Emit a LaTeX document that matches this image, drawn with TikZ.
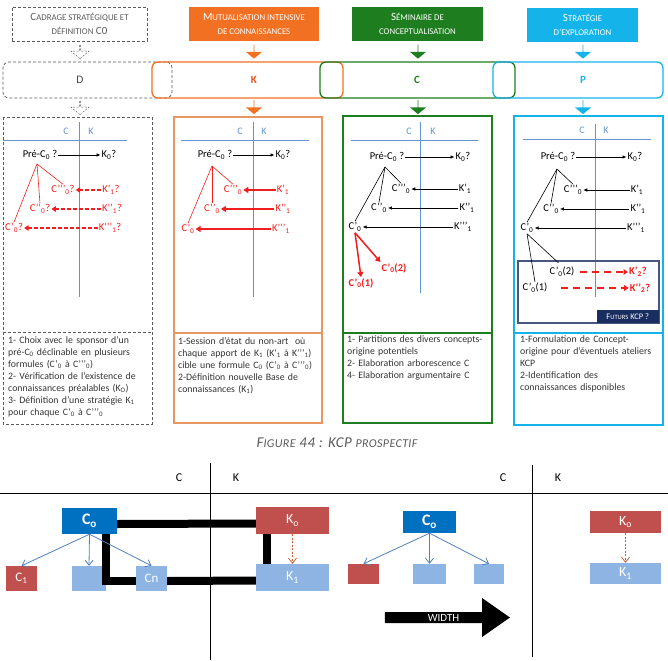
\documentclass[tikz,border=0pt]{standalone}
\usepackage{fontspec}
\setmainfont{Carlito}
\usetikzlibrary{positioning,shapes.arrows,arrows.meta}

\setlength{\parindent}{0pt}

\definecolor{kcporange}{RGB}{241,112,34}
\definecolor{kcpkorange}{RGB}{232,85,35}
\definecolor{kcppanelorange}{RGB}{232,150,100}
\definecolor{kcpgreen}{RGB}{30,125,30}
\definecolor{kcpcyan}{RGB}{20,180,235}
\definecolor{kcpgray}{RGB}{90,90,90}
\definecolor{kcpline}{RGB}{95,150,210}
\definecolor{kcpred}{RGB}{240,30,30}
\definecolor{kcpnavy}{RGB}{25,45,95}
\definecolor{kcpdarkblue}{RGB}{0,112,192}
\definecolor{kcpbrick}{RGB}{192,80,77}
\definecolor{kcplightblue}{RGB}{141,180,226}
\definecolor{kcpsteel}{RGB}{79,129,189}
\definecolor{kcprust}{RGB}{205,95,55}

% fake small caps: big first letter, small rest
\newcommand{\fsc}[2]{#1{\fontsize{8.8}{10}\selectfont #2}}
\newcommand{\lo}[1]{\textsubscript{#1}}

\begin{document}
\begin{tikzpicture}[x=1pt, y=-1pt,
    hdr/.style={rectangle, minimum height=34pt, inner sep=0pt, align=center, font=\fontsize{11}{14}\selectfont},
    midbox/.style={rectangle, rounded corners=6pt, line width=1.3pt, minimum height=36pt, inner sep=0pt},
    midlab/.style={font=\bfseries\fontsize{11}{12}\selectfont},
    fatdown/.style={single arrow, rotate=-90, minimum height=14pt, minimum width=16pt,
        single arrow head extend=4pt, single arrow tip angle=100, inner sep=0pt},
    dashbox/.style={kcpgray, line width=0.7pt, dash pattern=on 3pt off 2pt},
    panel/.style={line width=1.3pt},
    ckline/.style={kcpline, line width=0.6pt},
    cklab/.style={kcpline, font=\fontsize{10}{11}\selectfont},
    lab/.style={inner sep=1pt, font=\fontsize{10.5}{12}\selectfont},
    thinarrow/.style={-{Latex[length=4pt,width=3.5pt]}, line width=0.6pt},
    redsolid/.style={kcpred, line width=1.8pt, -{Triangle[length=5pt,width=6pt]}},
    reddash/.style={kcpred, line width=1.6pt, dash pattern=on 4pt off 2pt, -{Triangle[length=4.5pt,width=5.5pt]}},
    note/.style={anchor=north west, inner sep=0pt, font=\fontsize{9.8}{12}\selectfont, text=black!80},
    blk/.style={rectangle, inner sep=0pt, text=white},
    bigline/.style={line width=8pt},
    ]
\useasboundingbox (0,0) rectangle (668,660);

% header boxes
\node[hdr, draw=kcpgray, dash pattern=on 3pt off 2pt, text=kcpgray, minimum width=135pt] (cadrage) at (79.5,24)
    {\fsc{C}{ADRAGE STRATÉGIQUE ET}\\{\fontsize{8.8}{10}\selectfont DÉFINITION} C0};
\node[hdr, fill=kcporange, text=white, minimum width=130pt] (mutual) at (254,24)
    {\fsc{M}{UTUALISATION INTENSIVE}\\{\fontsize{8.8}{10}\selectfont DE CONNAISSANCES}};
\node[hdr, fill=kcpgreen, text=white, minimum width=131pt] (seminaire) at (417.5,24)
    {\fsc{S}{ÉMINAIRE DE}\\{\fontsize{8.8}{10}\selectfont CONCEPTUALISATION}};
\node[hdr, fill=kcpcyan, text=white, minimum width=111pt] (strategie) at (582.5,25)
    {\fsc{S}{TRATÉGIE}\\{\fontsize{8.8}{10}\selectfont D’EXPLORATION}};

% arrows under the headers
\node[fatdown, draw=kcpgray, dash pattern=on 2pt off 1.5pt, fill=white, minimum width=18pt, single arrow head extend=5pt] (arrd1) at (80,51.5) {};
\node[fatdown, fill=kcporange] (arrk1) at (254,51.5) {};
\node[fatdown, fill=kcpgreen] (arrc1) at (418,51.5) {};
\node[fatdown, fill=kcpcyan] (arrp1) at (583,51.5) {};

% D K C P band
\node[midbox, draw=kcpgray, line width=0.7pt, dash pattern=on 3pt off 2pt, minimum width=169pt] (dband) at (87.5,80) {};
\node[midbox, draw=kcporange, minimum width=191pt] (kband) at (247.5,80) {};
\node[midbox, draw=kcpgreen, minimum width=195pt] (cband) at (417.5,80) {};
\node[midbox, draw=kcpcyan, minimum width=170pt] (pband) at (578,80) {};
\node[font=\fontsize{11.5}{12}\selectfont, text=kcpgray!80!black] (dlab) at (80,80) {D};
\node[midlab, text=kcpkorange] (klab) at (254,80) {K};
\node[midlab, text=kcpgreen] (clab) at (417,80) {C};
\node[midlab, text=kcpcyan] (plab) at (583,80) {P};

% arrows under the band
\node[fatdown, draw=kcpgray, dash pattern=on 2pt off 1.5pt, fill=white, minimum width=18pt, single arrow head extend=5pt] (arrd2) at (80,107.5) {};
\node[fatdown, fill=kcporange] (arrk2) at (254,107) {};
\node[fatdown, fill=kcpgreen] (arrc2) at (418,107) {};
\node[fatdown, fill=kcpcyan] (arrp2) at (583,107) {};

% panel frames
\draw[dashbox] (3,117) rectangle (152,424);
\draw[dashbox] (3,332) -- (152,332);
\draw[panel, kcppanelorange] (174,117) rectangle (322,423);
\draw[panel, kcppanelorange] (174,333) -- (322,333);
\draw[panel, kcpgreen] (343,116) rectangle (492,423);
\draw[panel, kcpgreen] (343,333) -- (492,333);
\draw[panel, kcpcyan] (514,116) rectangle (663,425);
\draw[panel, kcpcyan] (514,333) -- (663,333);

% C | K axes
\draw[ckline] (3,140) -- (127,140);
\draw[ckline] (79,122) -- (79,297);
\node[cklab] at (66,131) {C};
\node[cklab] at (91,131) {K};
\draw[ckline] (181,140) -- (309,140);
\draw[ckline] (253,122) -- (253,297);
\node[cklab] at (240,131) {C};
\node[cklab] at (264,131) {K};
\draw[ckline] (351,140) -- (478,140);
\draw[ckline] (420,122) -- (420,293);
\node[cklab] at (409,131) {C};
\node[cklab] at (433,131) {K};
\draw[ckline] (523,139) -- (651,139);
\draw[ckline] (595,124) -- (595,297);
\node[cklab] at (582,130) {C};
\node[cklab] at (606,130) {K};

% panel D
\node[lab] (dpre) at (40,155) {Pré-C\lo{0} ?};
\node[lab] (dk0) at (109,155) {K\lo{0}?};
\draw[thinarrow] (dpre) -- (dk0);
\coordinate (dtop) at (37,164);
\node[lab, text=kcpred] (dc3) at (63,190) {C’’’\lo{0}?};
\node[lab, text=kcpred] (dc2) at (40,209) {C’’\lo{0}?};
\node[lab, text=kcpred] (dc1) at (14,228) {C’\lo{0}?};
\node[lab, text=kcpred] (dk1) at (111,190) {K’\lo{1}?};
\node[lab, text=kcpred] (dk2) at (112,209) {K’’\lo{1}?};
\node[lab, text=kcpred] (dk3) at (110,228) {K’’’\lo{1}?};
\draw[kcpred, line width=0.6pt] (dtop) -- (dc3.north);
\draw[kcpred, line width=0.6pt] (dtop) -- (dc2.north);
\draw[kcpred, line width=0.6pt] (dtop) -- (dc1.north);
\draw[reddash] (dk1) -- (dc3);
\draw[reddash] (dk2) -- (dc2);
\draw[reddash] (dk3) -- (dc1);

% panel K
\node[lab] (kpre) at (215,155) {Pré-C\lo{0} ?};
\node[lab] (kk0) at (283,155) {K\lo{0}?};
\draw[thinarrow] (kpre) -- (kk0);
\coordinate (ktop) at (212,166);
\node[lab, text=kcpred] (kc3) at (233,190) {C’’’\lo{0}};
\node[lab, text=kcpred] (kc2) at (212,209) {C’’\lo{0}};
\node[lab, text=kcpred] (kc1) at (188,229) {C’\lo{0}};
\node[lab, text=kcpred] (kk1) at (283,190) {K’\lo{1}};
\node[lab, text=kcpred] (kk2) at (283,209) {K’’\lo{1}};
\node[lab, text=kcpred] (kk3) at (281,229) {K’’’\lo{1}};
\draw[kcpred, line width=0.6pt] (ktop) -- (kc3.north);
\draw[kcpred, line width=0.6pt] (ktop) -- (kc2.north);
\draw[kcpred, line width=0.6pt] (ktop) -- (kc1.north);
\draw[redsolid] (kk1) -- (kc3);
\draw[redsolid] (kk2) -- (kc2);
\draw[redsolid] (kk3) -- (kc1);

% panel C
\node[lab] (cpre) at (387,157) {Pré-C\lo{0} ?};
\node[lab] (ck0) at (463,157) {K\lo{0}?};
\draw[thinarrow] (cpre) -- (ck0);
\coordinate (ctop) at (385,167);
\node[lab] (cc3) at (401,189) {C’’’\lo{0}};
\node[lab] (cc2) at (379,208) {C’’\lo{0}};
\node[lab] (cc1) at (355,227) {C’\lo{0}};
\node[lab] (ck1) at (465,189) {K’\lo{1}};
\node[lab] (ck2) at (467,208) {K’’\lo{1}};
\node[lab] (ck3) at (463,227) {K’’’\lo{1}};
\draw[line width=0.6pt] (ctop) -- (cc3.north);
\draw[line width=0.6pt] (ctop) -- (cc2.north);
\draw[line width=0.6pt] (ctop) -- (cc1.north);
\draw[thinarrow] (ck1) -- (cc3);
\draw[thinarrow] (ck2) -- (cc2);
\draw[thinarrow] (ck3) -- (cc1);
\node[lab, text=kcpred, font=\bfseries\fontsize{10.5}{12}\selectfont] (cc12) at (394,268) {C’\lo{0}(2)};
\node[lab, text=kcpred, font=\bfseries\fontsize{10.5}{12}\selectfont] (cc11) at (361,283) {C’\lo{0}(1)};
\draw[redsolid, line width=1.5pt] (cc1.south) -- (cc11.north);
\draw[redsolid, line width=1.5pt] (cc1.south) -- (cc12.north west);

% panel P
\node[lab] (ppre) at (558,157) {Pré-C\lo{0} ?};
\node[lab] (pk0) at (635,157) {K\lo{0}?};
\draw[thinarrow] (ppre) -- (pk0);
\coordinate (ptop) at (557,169);
\node[lab] (pc3) at (573,190) {C’’’\lo{0}};
\node[lab] (pc2) at (551,209) {C’’\lo{0}};
\node[lab] (pc1) at (527,228) {C’\lo{0}};
\node[lab] (pk1) at (637,190) {K’\lo{1}};
\node[lab] (pk2) at (638,209) {K’’\lo{1}};
\node[lab] (pk3) at (636,228) {K’’’\lo{1}};
\draw[line width=0.6pt] (ptop) -- (pc3.north);
\draw[line width=0.6pt] (ptop) -- (pc2.north);
\draw[line width=0.6pt] (ptop) -- (pc1.north);
\draw[thinarrow] (pk1) -- (pc3);
\draw[thinarrow] (pk2) -- (pc2);
\draw[thinarrow] (pk3) -- (pc1);
\draw[kcpnavy!80, line width=1.2pt] (518,261) rectangle (659,323);
\node[fill=kcpnavy, text=white, anchor=south east, minimum width=62pt, minimum height=13pt, inner sep=0pt,
    font=\fontsize{8.5}{9}\selectfont] (futurs) at (659,323) {F{\fontsize{6.5}{7}\selectfont UTURS} KCP ?};
\node[lab] (pc12) at (562,272) {C’\lo{0}(2)};
\node[lab] (pc11) at (535,288) {C’\lo{0}(1)};
\node[lab, text=kcpred, font=\bfseries\fontsize{10.5}{12}\selectfont] (pk12) at (638,272) {K’\lo{2}?};
\node[lab, text=kcpred, font=\bfseries\fontsize{10.5}{12}\selectfont] (pk11) at (640,288) {K’’\lo{2}?};
\draw[line width=0.6pt, shorten >=5pt] (pc1.south) -- (pc12.north);
\draw[line width=0.6pt] (pc1.south) -- (pc11.north);
\draw[reddash, line width=2pt, dash pattern=on 7pt off 5pt, shorten <=4pt] (pc12) -- (pk12);
\draw[reddash, line width=2pt, dash pattern=on 7pt off 5pt, shorten <=12pt] (pc11) -- (pk11);

% panel notes
\node[note, text width=138pt] (dnote) at (8,336)
    {1- Choix avec le sponsor d’un\linebreak pré-C\lo{0} déclinable en plusieurs\linebreak formules (C’\lo{0} à C’’’\lo{0})\par
     2- Vérification de l’existence de\linebreak connaissances préalables (K\lo{O})\par
     3- Définition d’une stratégie K\lo{1}\linebreak pour chaque C’\lo{0} à C’’’\lo{0}};
\node[note, text width=139pt] (knote) at (178,337)
    {1-Session d’état du non-art~ où\linebreak chaque apport de K\lo{1} (K’\lo{1} à K’’’\lo{1})\linebreak cible une formule C\lo{0} (C’\lo{0} à C’’’\lo{0})\par
     2-Définition nouvelle Base de\linebreak connaissances (K\lo{1})};
\node[note, text width=145pt, align=left] (cnote) at (347,335.5)
    {1- Partitions des divers concepts-\\origine potentiels\\2- Elaboration arborescence C\\4- Elaboration argumentaire C};
\node[note, text width=142pt, align=left] (pnote) at (520,335.5)
    {1-Formulation de Concept-\\origine pour d’éventuels ateliers\\KCP\\2-Identification des\\connaissances disponibles};

% caption
\node[font=\itshape\fontsize{15}{17}\selectfont\addfontfeature{LetterSpace=3}, text=kcpgray] (caption) at (337,443)
    {F{\fontsize{12}{14}\selectfont IGURE} 44 : KCP {\fontsize{12}{14}\selectfont PROSPECTIF}};

% lower C | K axes
\draw[line width=0.8pt] (0,493) -- (668,493);
\draw[line width=0.8pt] (210,463) -- (210,660);
\draw[line width=0.8pt] (532,465) -- (532,657);
\node[font=\fontsize{12}{13}\selectfont] (lc) at (179,478) {C};
\node[font=\fontsize{12}{13}\selectfont] (lk) at (236,478) {K};
\node[font=\fontsize{12}{13}\selectfont] (rc) at (503,478) {C};
\node[font=\fontsize{12}{13}\selectfont] (rk) at (558,478) {K};

% left tree
\node[blk, fill=kcpdarkblue, minimum width=55pt, minimum height=26pt, font=\bfseries\fontsize{16}{17}\selectfont] (lco) at (89.5,521) {C\lo{o}};
\node[blk, fill=kcpbrick, minimum width=31pt, minimum height=25pt, font=\fontsize{13}{14}\selectfont] (lc1) at (21.5,578.5) {C\lo{1}};
\node[blk, fill=kcplightblue, minimum width=34pt, minimum height=25pt] (lcb) at (89,578.5) {};
\node[blk, fill=kcplightblue, minimum width=31pt, minimum height=25pt, font=\fontsize{13}{14}\selectfont] (lcn) at (151.5,578.5) {Cn};
\node[blk, fill=kcpbrick, minimum width=73pt, minimum height=27pt, font=\fontsize{14}{15}\selectfont] (lko) at (292.5,520.5) {K\lo{o}};
\node[blk, fill=kcplightblue, minimum width=73pt, minimum height=27pt, font=\fontsize{14}{15}\selectfont] (lk1) at (292.5,577.5) {K\lo{1}};
\draw[bigline] ([yshift=-3pt]lco.east) -- ([yshift=-3pt]lko.west);
\draw[bigline] ([xshift=-25.5pt]lko.south) -- ([xshift=-25.5pt]lk1.north);
\draw[bigline] ([yshift=-3pt]lk1.west) -- ([yshift=-2.5pt]lcn.east);
\draw[bigline] ([yshift=-2.5pt]lcn.west) -| ([xshift=16.5pt]lco.south);
\draw[kcpsteel, line width=0.8pt, -{Straight Barb[length=5pt,width=8pt]}] (lco.south) -- (lc1.north);
\draw[kcpsteel, line width=0.8pt, -{Straight Barb[length=5pt,width=8pt]}] (lco.south) -- (lcb.north);
\draw[kcpsteel, line width=0.8pt, -{Straight Barb[length=5pt,width=8pt]}] (lco.south) -- (lcn.north);
\draw[kcprust, line width=0.8pt, dash pattern=on 2pt off 1.5pt, -{Straight Barb[length=5pt,width=8pt]}] (lko.south) -- (lk1.north);

% right tree
\node[blk, fill=kcpdarkblue, minimum width=53pt, minimum height=22pt, font=\bfseries\fontsize{16}{17}\selectfont] (rco) at (429.5,522) {C\lo{o}};
\node[blk, fill=kcpbrick, minimum width=31pt, minimum height=20pt] (rcr) at (363.5,574) {};
\node[blk, fill=kcplightblue, minimum width=33pt, minimum height=20pt] (rcb1) at (429.5,574) {};
\node[blk, fill=kcplightblue, minimum width=30pt, minimum height=20pt] (rcb2) at (489,574) {};
\node[blk, fill=kcpbrick, minimum width=71pt, minimum height=22pt, font=\fontsize{14}{15}\selectfont] (rko) at (625.5,522) {K\lo{o}};
\node[blk, fill=kcplightblue, minimum width=71pt, minimum height=21pt, font=\fontsize{14}{15}\selectfont] (rk1) at (625.5,573.5) {K\lo{1}};
\draw[kcpsteel, line width=0.8pt, -{Straight Barb[length=5pt,width=8pt]}] (rco.south) -- (rcr.north);
\draw[kcpsteel, line width=0.8pt, -{Straight Barb[length=5pt,width=8pt]}] (rco.south) -- (rcb1.north);
\draw[kcpsteel, line width=0.8pt, -{Straight Barb[length=5pt,width=8pt]}] (rco.south) -- (rcb2.north);
\draw[kcprust, line width=0.8pt, dash pattern=on 2pt off 1.5pt, -{Straight Barb[length=5pt,width=8pt]}] (rko.south) -- (rk1.north);
\node[single arrow, fill=black, text=white, minimum height=125pt, minimum width=39pt, single arrow head extend=9.5pt,
    single arrow tip angle=70, inner sep=0pt, font=\fontsize{11}{12}\selectfont] (width) at (443.5,617.5) {WIDTH};
\end{tikzpicture}
\end{document}
